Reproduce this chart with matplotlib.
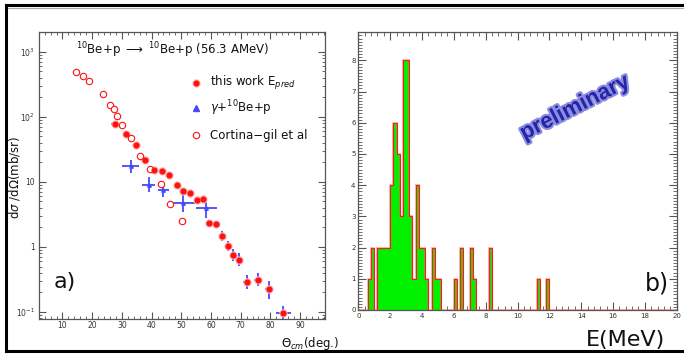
import numpy as np
import matplotlib
matplotlib.use("Agg")
import matplotlib.pyplot as plt
from matplotlib.lines import Line2D
from matplotlib.ticker import MultipleLocator, FixedLocator, LogLocator, NullFormatter
import matplotlib.patheffects as pe

# ---------------- data: panel a) ----------------
cortina_theta = [14.6, 16.9, 19.1, 23.6, 26.1, 27.2, 28.5, 30.2, 33.0, 36.2, 39.5, 43.1, 46.3, 50.2]
cortina_xs = [482, 427, 358, 221, 151, 131, 103, 76, 46.5, 25, 15.7, 9.4, 4.5, 2.48]

work_theta = [27.7, 31.5, 34.8, 37.9, 40.8, 43.5, 46.0, 48.5, 50.7, 53.0, 55.3, 57.3,
              59.5, 61.8, 63.7, 65.6, 67.4, 69.6, 72.1, 75.8, 79.7, 84.4]
work_xs = [76.4, 54.2, 36.7, 22.1, 15.1, 14.8, 12.7, 8.9, 7.2, 6.8, 5.2, 5.5,
           2.34, 2.23, 1.46, 1.03, 0.745, 0.64, 0.29, 0.315, 0.229, 0.098]
work_xerr = [1.2, 0, 0, 0, 0, 0, 0, 0, 0, 0, 0, 0,
             0.5, 0.5, 0.6, 0.6, 0.6, 0.6, 1.35, 1.35, 1.35, 2.5]
work_yerr_lo = [0, 0, 0, 0, 0, 0, 0, 0, 0, 0, 0, 0,
                0.24, 0.22, 0.24, 0.17, 0.14, 0.135, 0.061, 0.067, 0.07, 0.021]
work_yerr_hi = [0, 0, 0, 0, 0, 0, 0, 0, 0, 0, 0, 0,
                0.26, 0.25, 0.28, 0.20, 0.18, 0.17, 0.078, 0.084, 0.068, 0.026]

gamma_theta = [33.0, 39.0, 44.0, 50.5, 58.4]
gamma_xs = [17.5, 9.06, 7.45, 4.75, 3.94]
gamma_xerr = [2.8, 2.2, 1.85, 4.2, 3.5]
gamma_yerr_lo = [3.8, 2.06, 1.55, 1.3, 1.2]
gamma_yerr_hi = [4.6, 2.84, 1.95, 1.45, 1.6]

# ---------------- data: panel b) ----------------
bin_width = 0.2
e_range = (0.0, 20.0)
bin_lo = [0.6, 0.8, 1.2, 1.4, 1.6, 1.8, 2.0, 2.2, 2.4, 2.6, 2.8, 3.0, 3.2, 3.4, 3.6, 3.8,
          4.0, 4.2, 4.6, 4.8, 5.0, 6.0, 6.4, 7.0, 7.2, 8.2, 11.2, 11.8]
bin_counts = [1, 2, 2, 2, 2, 2, 4, 6, 5, 3, 8, 8, 3, 1, 4, 2,
              2, 1, 2, 1, 1, 1, 2, 2, 1, 2, 1, 1]

W, H = 684, 354
fig = plt.figure(figsize=(W / 100, H / 100), dpi=100)
fig.patch.set_facecolor("white")

def fx(x):
    return x / W

def fy(y):
    return 1 - y / H

spine_color = "#555555"

def style_axes(ax):
    for s in ax.spines.values():
        s.set_color(spine_color)
        s.set_linewidth(0.9)
    ax.tick_params(which="both", direction="in", top=True, right=True,
                   colors=spine_color, labelcolor="#333333", labelsize=5.5, pad=3)
    ax.tick_params(which="major", length=5, width=0.8)
    ax.tick_params(which="minor", length=2.5, width=0.6)

# ---------------- panel a ----------------
axa = fig.add_axes([fx(39.3), fy(318.5), fx(325) - fx(39.3), fy(32.3) - fy(318.5)])
axa.set_yscale("log")
axa.set_xlim(2.2, 98.4)
axa.set_ylim(10 ** -1.1, 10 ** 3.3)
style_axes(axa)
axa.xaxis.set_major_locator(FixedLocator(np.arange(10, 100, 10)))
axa.xaxis.set_minor_locator(MultipleLocator(2))
axa.yaxis.set_major_locator(FixedLocator([0.1, 1, 10, 100, 1000]))
axa.yaxis.set_minor_locator(LogLocator(base=10, subs=np.arange(2, 10)))
axa.yaxis.set_minor_formatter(NullFormatter())
axa.set_yticklabels([r"10$^{-1}$", "1", "10", r"10$^{2}$", r"10$^{3}$"])
axa.tick_params(axis="x", pad=2)

blue = "#4848ff"
red = "#ff1010"

# gamma data (blue crosses)
axa.errorbar(gamma_theta, gamma_xs, xerr=gamma_xerr, yerr=[gamma_yerr_lo, gamma_yerr_hi],
             fmt="^", color=blue, ms=2.5, elinewidth=1.3, capsize=0, zorder=3)
# this work (red filled, blue error bars)
axa.errorbar(work_theta, work_xs, xerr=work_xerr, yerr=[work_yerr_lo, work_yerr_hi],
             fmt="none", ecolor=blue, elinewidth=1.3, capsize=0, zorder=3)
axa.plot(work_theta, work_xs, "o", color="#ffb4b4", ms=5.0, zorder=4)
axa.plot(work_theta, work_xs, "o", color=red, ms=3.4, zorder=5)
# Cortina-gil (open circles)
axa.plot(cortina_theta, cortina_xs, "o", mfc="white", mec=red, mew=0.8, ms=4.6, zorder=4)

# title and legend
fig.text(fx(173), fy(50), r"$^{10}$Be+p $\longrightarrow$ $^{10}$Be+p (56.3 AMeV)",
         ha="center", va="center", fontsize=8.5, color="#111111")
leg_y = [83, 108, 135]
fig.add_artist(Line2D([fx(196)], [fy(leg_y[0])], marker="o", color="#ffb4b4", ms=5, ls="none"))
fig.add_artist(Line2D([fx(196)], [fy(leg_y[0])], marker="o", color=red, ms=3.4, ls="none"))
fig.add_artist(Line2D([fx(196)], [fy(leg_y[1])], marker="^", color=blue, ms=4, ls="none"))
fig.add_artist(Line2D([fx(196)], [fy(leg_y[2])], marker="o", mfc="white", mec=red, mew=0.8,
                      ms=4.6, ls="none"))
fig.text(fx(210), fy(leg_y[0]), r"this work E$_{pred}$", ha="left", va="center", fontsize=8.5,
         color="#111111")
fig.text(fx(210), fy(leg_y[1]), r"$\gamma$+$^{10}$Be+p", ha="left", va="center", fontsize=8.5,
         color="#111111")
fig.text(fx(210), fy(leg_y[2]), "Cortina\u2212gil et al", ha="left", va="center", fontsize=8.5,
         color="#111111")

fig.text(fx(15), fy(177), r"d$\sigma$ /d$\Omega$(mb/sr)", rotation=90, ha="center",
         va="center", fontsize=8.5, color="#111111")
fig.text(fx(65), fy(282), "a)", ha="center", va="center", fontsize=16, color="#111111")
fig.text(fx(339), fy(343), r"$\Theta_{cm}$(deg.)", ha="right", va="center", fontsize=8.5,
         color="#111111")

# ---------------- panel b ----------------
axb = fig.add_axes([fx(358.3), fy(310), fx(676.7) - fx(358.3), fy(32.3) - fy(310)])
edges = np.arange(e_range[0], e_range[1] + bin_width / 2, bin_width)
counts = np.zeros(len(edges) - 1)
for lo, c in zip(bin_lo, bin_counts):
    counts[int(round((lo - e_range[0]) / bin_width))] = c
axb.stairs(counts, edges, fill=True, color="#00f000", zorder=2)
axb.stairs(counts, edges, color="#ff6060", lw=1.3, alpha=0.5, zorder=3, baseline=0)
axb.stairs(counts, edges, color="#ff1a1a", lw=0.8, zorder=4, baseline=0)
axb.set_xlim(*e_range)
axb.set_ylim(0, 8.9)
style_axes(axb)
axb.xaxis.set_major_locator(MultipleLocator(2))
axb.xaxis.set_minor_locator(MultipleLocator(0.4))
axb.yaxis.set_major_locator(MultipleLocator(1))
axb.yaxis.set_minor_locator(MultipleLocator(0.1))
axb.tick_params(which="major", length=6)
axb.tick_params(which="minor", length=3)
axb.tick_params(labelsize=5, pad=2)

fig.text(fx(575), fy(108), "preliminary", rotation=27, ha="center", va="center",
         fontsize=16, fontweight="bold", color="#2424a8", family="Liberation Sans",
         path_effects=[pe.withStroke(linewidth=3, foreground="#8c8ce0")])
fig.text(fx(657), fy(283), "b)", ha="center", va="center", fontsize=17, color="#111111")
fig.text(fx(626), fy(340), "E(MeV)", ha="center", va="center", fontsize=16, color="#111111")

# outer frame
fig.add_artist(Line2D([fx(6), fx(690)], [fy(5), fy(5)], color="black", lw=2.2))
fig.add_artist(Line2D([fx(6), fx(690)], [fy(7.5), fy(7.5)], color="#aaaaaa", lw=0.8))
fig.add_artist(Line2D([fx(6), fx(6)], [fy(5), fy(351)], color="black", lw=2.2))
fig.add_artist(Line2D([fx(6), fx(690)], [fy(351), fy(351)], color="black", lw=2.2))

fig.savefig("out.png", dpi=100, facecolor="white")
